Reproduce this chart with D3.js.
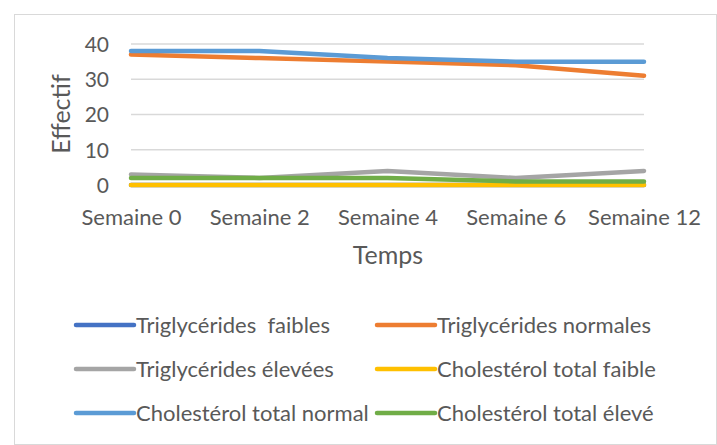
<!DOCTYPE html>
<html>
<head>
<meta charset="utf-8">
<script src="https://cdn.jsdelivr.net/npm/d3@7"></script>
<style>
  body { margin: 0; background: #fff; }
  text { font-family: Lato, "Open Sans", sans-serif; fill: #595959; white-space: pre; }
</style>
</head>
<body>
<svg></svg>
<script>
//* Weekly headcounts per lipid category
const categories = ["Semaine 0", "Semaine 2", "Semaine 4", "Semaine 6", "Semaine 12"];
const seriesNames = [
  "Triglycérides  faibles", "Triglycérides normales",
  "Triglycérides élevées", "Cholestérol total faible",
  "Cholestérol total normal", "Cholestérol total élevé"];
const trigFaibles = [0, 0, 0, 0, 0];
const trigNormales = [37, 36, 35, 34, 31];
const trigElevees = [3, 2, 4, 2, 4];
const cholFaible = [0, 0, 0, 0, 0];
const cholNormal = [38, 38, 36, 35, 35];
const cholEleve = [2, 2, 2, 1, 1];
const yTicks = [0, 10, 20, 30, 40];

const colors = ["#4472C4", "#ED7D31", "#A5A5A5", "#FFC000", "#5B9BD5", "#70AD47"];
const allValues = [trigFaibles, trigNormales, trigElevees, cholFaible, cholNormal, cholEleve];
const series = seriesNames.map((name, i) => ({ name, color: colors[i], values: allValues[i] }));

const width = 717;
const height = 445;

const svg = d3.select("svg")
  .attr("width", width)
  .attr("height", height);

// chart frame
svg.append("rect")
  .attr("x", 14.5)
  .attr("y", 14.5)
  .attr("width", width - 15)
  .attr("height", height - 15)
  .attr("fill", "#fff")
  .attr("stroke", "#D9D9D9");

const x = d3.scalePoint()
  .domain(categories)
  .range([131, 644]);

const y = d3.scaleLinear()
  .domain([0, 40])
  .range([185, 44]);

// gridlines
svg.append("g")
  .selectAll("line")
  .data(yTicks)
  .join("line")
    .attr("x1", 131)
    .attr("x2", 644)
    .attr("y1", d => y(d))
    .attr("y2", d => y(d))
    .attr("stroke", "#D9D9D9")
    .attr("stroke-width", 1.5);

// y axis labels
const yAxis = svg.append("g")
  .attr("transform", "translate(109,0)")
  .call(d3.axisLeft(y).tickValues(yTicks).tickSize(0).tickPadding(0));
yAxis.select(".domain").remove();
yAxis.selectAll("text")
  .attr("font-size", 21)
  .attr("dy", "0.35em");

// x axis labels
const xAxis = svg.append("g")
  .call(d3.axisBottom(x).tickSize(0).tickPadding(0));
xAxis.select(".domain").remove();
xAxis.selectAll("text")
  .attr("font-size", 22)
  .attr("y", 225)
  .attr("dy", 0);

// axis titles
svg.append("text")
  .attr("transform", "translate(70,114) rotate(-90)")
  .attr("text-anchor", "middle")
  .attr("font-size", 25)
  .text("Effectif");

svg.append("text")
  .attr("x", 388)
  .attr("y", 264)
  .attr("text-anchor", "middle")
  .attr("font-size", 25)
  .text("Temps");

// series lines
const line = d3.line()
  .x((d, i) => x(categories[i]))
  .y(d => y(d));

svg.append("g")
  .selectAll("path")
  .data(series)
  .join("path")
    .attr("d", d => line(d.values))
    .attr("fill", "none")
    .attr("stroke", d => d.color)
    .attr("stroke-width", 4.5)
    .attr("stroke-linecap", "round")
    .attr("stroke-linejoin", "round");

// legend, two columns
const legend = svg.append("g")
  .selectAll("g")
  .data(series)
  .join("g")
    .attr("transform", (d, i) => `translate(${i % 2 ? 377 : 76},${325 + Math.floor(i / 2) * 44})`);

legend.append("line")
  .attr("x1", 0)
  .attr("x2", 58)
  .attr("stroke", d => d.color)
  .attr("stroke-width", 4.5)
  .attr("stroke-linecap", "round");

legend.append("text")
  .attr("x", 60)
  .attr("dy", "0.35em")
  .attr("font-size", 22)
  .text(d => d.name);
</script>
</body>
</html>
